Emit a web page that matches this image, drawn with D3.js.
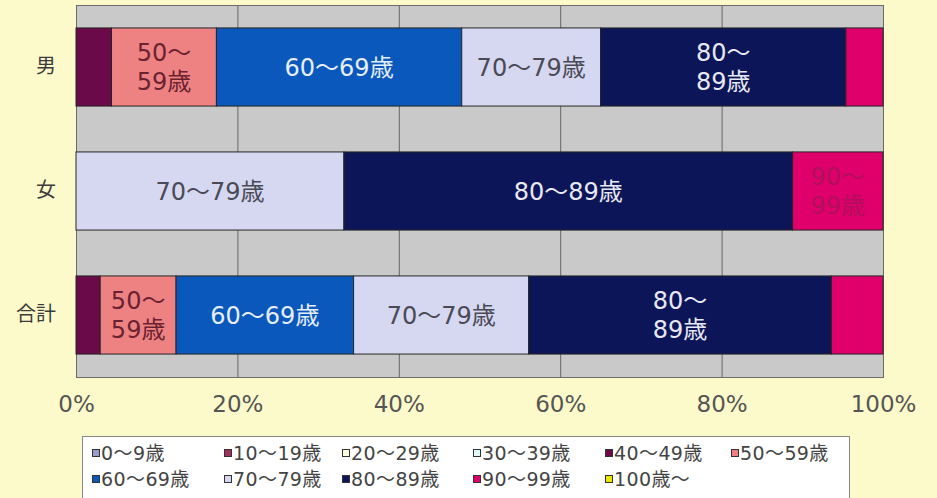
<!DOCTYPE html>
<html>
<head>
<meta charset="utf-8">
<script src="https://cdn.jsdelivr.net/npm/d3@7"></script>
<style>
  body { margin: 0; background: #fcfacb; }
  svg { display: block; }
  text { font-family: "DejaVu Sans", "Noto Sans CJK JP", sans-serif; }
</style>
</head>
<body>
<div id="chart"></div>
<script>
var categories = ['男', '女', '合計']
var ageGroups = ['0～9歳', '10～19歳', '20～29歳', '30～39歳', '40～49歳', '50～59歳',
                 '60～69歳', '70～79歳', '80～89歳', '90～99歳', '100歳～']
// percent share per age group
var male   = [0, 0, 0, 0, 4.4, 13.0, 30.4, 17.2, 30.4, 4.6, 0]
var female = [0, 0, 0, 0, 0,   0,    0,    33.2, 55.6, 11.2, 0]
var total  = [0, 0, 0, 0, 3.0, 9.4,  22.0, 21.7, 37.5, 6.4, 0]
var xTicks = [0, 20, 40, 60, 80, 100]
// segments whose label is broken onto two lines
var wrapped = [['男', '50～59歳'], ['男', '80～89歳'], ['女', '90～99歳'],
               ['合計', '50～59歳'], ['合計', '80～89歳']]

var colors = ['#9a9ac8', '#a03060', '#fdfde0', '#e0f8f8', '#6b0a48', '#ee8282',
              '#0a58bc', '#d6d8f2', '#0c1558', '#e0006c', '#e8e800']
var labelColors = {'50～59歳': '#6a2232', '60～69歳': '#e6eeff', '70～79歳': '#4a4a55',
                   '80～89歳': '#e8e8f2', '90～99歳': '#b0105a'}

var width = 937, height = 498
var svg = d3.select('#chart').append('svg').attr('width', width).attr('height', height)

var rows = categories.map(function(c, i){
  var r = {category: c}
  var vals = [male, female, total][i]
  ageGroups.forEach(function(g, j){ r[g] = vals[j] })
  return r
})

var x = d3.scaleLinear().domain([0, 100]).range([76, 883])
var y = d3.scaleBand().domain(categories).range([5, 377]).paddingInner(0.37).paddingOuter(0.185)
var color = d3.scaleOrdinal().domain(ageGroups).range(colors)

// plot area
svg.append('rect')
  .attr('x', x(0)).attr('y', 5)
  .attr('width', x(100) - x(0)).attr('height', 372)
  .attr('fill', '#c9c9c9')

svg.append('g').selectAll('line')
  .data(xTicks.slice(1, -1))
  .join('line')
  .attr('x1', d => x(d) + 0.5).attr('x2', d => x(d) + 0.5)
  .attr('y1', 5).attr('y2', 377)
  .attr('stroke', '#666').attr('stroke-width', 1)

svg.append('rect')
  .attr('x', x(0) + 0.5).attr('y', 5.5)
  .attr('width', x(100) - x(0)).attr('height', 372)
  .attr('fill', 'none').attr('stroke', '#6a6a6a')

var series = d3.stack().keys(ageGroups)(rows)

var groups = svg.append('g').selectAll('g')
  .data(series)
  .join('g')
  .attr('fill', d => color(d.key))

groups.selectAll('rect')
  .data(d => d.filter(s => s[1] > s[0]))
  .join('rect')
  .attr('x', d => x(d[0]))
  .attr('y', d => y(d.data.category))
  .attr('width', d => x(d[1]) - x(d[0]))
  .attr('height', y.bandwidth())
  .attr('stroke', '#262626').attr('stroke-width', 1)

// segment labels
var labels = []
series.forEach(function(s){
  s.forEach(function(d){
    if (d[1] - d[0] < 8) return
    var cat = d.data.category
    var isWrapped = wrapped.some(w => w[0] == cat && w[1] == s.key)
    var cut = s.key.indexOf('～') + 1
    var lines = isWrapped ? [s.key.slice(0, cut), s.key.slice(cut)] : [s.key]
    labels.push({key: s.key, cat: cat, mid: (d[0] + d[1]) / 2, lines: lines})
  })
})

var lab = svg.append('g').selectAll('text')
  .data(labels)
  .join('text')
  .attr('text-anchor', 'middle')
  .attr('font-size', 24)
  .attr('fill', d => labelColors[d.key])
  .attr('transform', d => 'translate(' + x(d.mid) + ',' + (y(d.cat) + y.bandwidth() / 2) + ')')

lab.selectAll('tspan')
  .data(d => d.lines.map((t, i) => ({t: t, i: i, n: d.lines.length})))
  .join('tspan')
  .attr('x', 0)
  .attr('y', d => (d.i - (d.n - 1) / 2) * 29)
  .attr('dy', '0.36em')
  .text(d => d.t)

// axes
var xAxis = svg.append('g')
  .attr('transform', 'translate(0,377)')
  .call(d3.axisBottom(x).tickValues(xTicks).tickSize(0).tickPadding(19).tickFormat(d => d + '%'))
xAxis.select('.domain').remove()
xAxis.selectAll('text').attr('font-size', 23).attr('fill', '#555').style('font-family', null)

var yAxis = svg.append('g')
  .attr('transform', 'translate(76,0)')
  .call(d3.axisLeft(y).tickSize(0).tickPadding(20))
yAxis.select('.domain').remove()
yAxis.selectAll('text').attr('font-size', 20).attr('fill', '#3c3c3c').style('font-family', null)

// legend
var legendCols = [92, 224, 342, 473, 605, 731]
var legend = svg.append('g')
legend.append('rect')
  .attr('x', 82.5).attr('y', 436.5).attr('width', 767).attr('height', 70)
  .attr('fill', '#fff').attr('stroke', '#888')

var item = legend.selectAll('g.item')
  .data(ageGroups)
  .join('g')
  .attr('class', 'item')
  .attr('transform', (d, i) => 'translate(' + legendCols[i % 6] + ',' + (453 + Math.floor(i / 6) * 26) + ')')

item.append('rect')
  .attr('x', 0.5).attr('y', -3.5).attr('width', 7).attr('height', 7)
  .attr('fill', d => color(d)).attr('stroke', '#333')

item.append('text')
  .attr('x', 9).attr('dy', '0.36em')
  .attr('font-size', 19).attr('fill', '#444')
  .style('letter-spacing', '0.4px')
  .text(d => d)
</script>
</body>
</html>
